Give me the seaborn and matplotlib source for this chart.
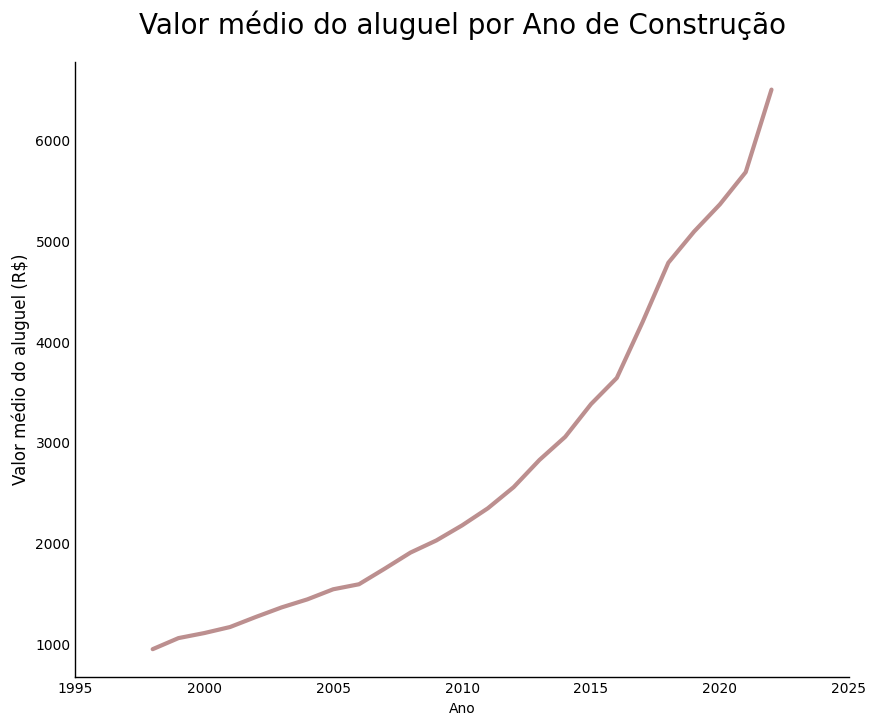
import matplotlib
matplotlib.use("Agg")
from matplotlib import pyplot as plt
import seaborn as sns
import pandas as pd

anos = [1998, 1999, 2000, 2001, 2002, 2003, 2004, 2005, 2006, 2007, 2008, 2009,
        2010, 2011, 2012, 2013, 2014, 2015, 2016, 2017, 2018, 2019, 2020, 2021, 2022]
valor_medio = [950, 1060, 1110, 1170, 1270, 1365, 1445, 1545, 1595, 1750, 1910, 2030,
               2180, 2350, 2560, 2830, 3060, 3385, 3645, 4200, 4790, 5100, 5370, 5690, 6510]


def main():
    df = pd.DataFrame({'Ano': anos, 'valor': valor_medio})

    sns.set_style('white', rc={'text.color': 'black', 'axes.labelcolor': 'black',
                               'xtick.color': 'black', 'ytick.color': 'black',
                               'axes.edgecolor': 'black'})
    fig, ax = plt.subplots(figsize=(8.76, 7.25), dpi=100)
    fig.subplots_adjust(left=0.086, right=0.969, top=0.915, bottom=0.066)

    sns.lineplot(data=df, x='Ano', y='valor', color='#bc8f8f', linewidth=3, ax=ax)

    ax.set_title('Valor médio do aluguel por Ano de Construção', fontsize=20, pad=20)
    ax.set_xlabel('Ano', fontsize=10)
    ax.set_ylabel('Valor médio do aluguel (R$)', fontsize=12)
    ax.set_xlim(1995, 2025)
    ax.tick_params(length=0, labelsize=10)
    sns.despine(ax=ax)
    for s in ['left', 'bottom']:
        ax.spines[s].set_linewidth(1)

    plt.savefig('out.png', dpi=100)


if __name__ == "__main__":
    main()
